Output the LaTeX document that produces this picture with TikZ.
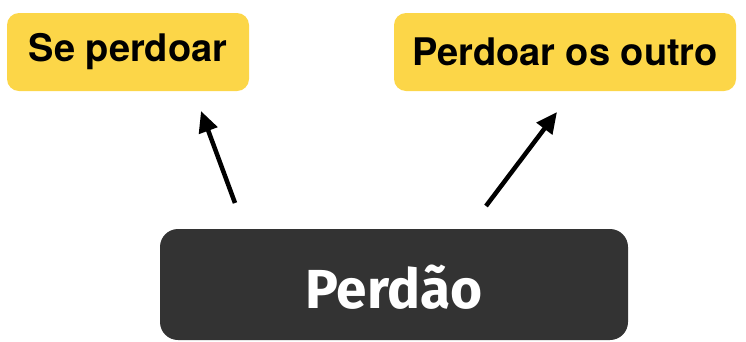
\documentclass[tikz,border=0pt]{standalone}
\usepackage{fontspec}
\usepackage{tikz}
\usetikzlibrary{arrows.meta,positioning,calc}
\newfontfamily\helv{TeX Gyre Heros}
\newfontfamily\fira{Fira Sans}

\begin{document}
\begin{tikzpicture}[x=1pt,y=-1pt,
    leaf/.style={fill=yellowbox,rounded corners=12pt,inner sep=0pt,
      minimum height=78pt,font=\helv\bfseries\fontsize{38}{40}\selectfont},
    root/.style={fill=darkbox,text=white,rounded corners=18pt,inner sep=0pt,
      minimum width=468pt,minimum height=111pt,text height=47pt,text depth=0pt,
      font=\fira\bfseries\fontsize{55}{58}\selectfont},
    arr/.style={-{Triangle[length=21pt,width=19pt]},line width=4.5pt}]
      \definecolor{yellowbox}{RGB}{252,214,72}
      \definecolor{darkbox}{RGB}{51,51,51}
      \useasboundingbox (0,0) rectangle (746,341);
      \node[leaf,minimum width=242pt] (S) at (128,52) {Se perdoar};
      \node[leaf,minimum width=342pt] (O) at (565,52) {Perdoar os outro};
      \node[root] (P) at (394,284.5) {Perdão};
      \coordinate (S1) at (235,203);
      \coordinate (S2) at (201,111);
      \coordinate (O1) at (486,206);
      \coordinate (O2) at (557,112);
      \draw[arr] (S1) -- (S2);
      \draw[arr] (O1) -- (O2);
    \end{tikzpicture}
\end{document}
